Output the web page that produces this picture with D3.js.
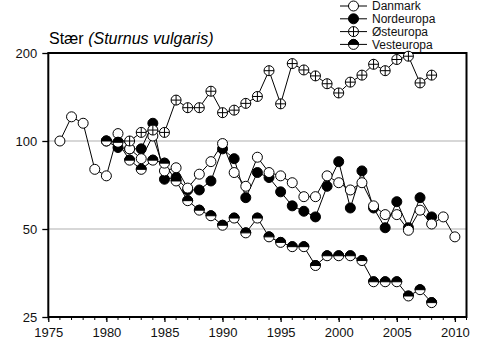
<!DOCTYPE html>
<html><head><meta charset="utf-8">
<script src="https://cdn.jsdelivr.net/npm/d3@7/dist/d3.min.js"></script>
<style>body{margin:0;background:#fff}svg{display:block}</style>
</head><body>
<svg id="c" width="500" height="355"></svg>
<script>
// ---- data ----
const danmarkYears = [1976,1977,1978,1979,1980,1981,1982,1983,1984,1985,1986,1987,1988,1989,1990,1991,1992,1993,1994,1995,1996,1997,1998,1999,2000,2001,2002,2003,2004,2005,2006,2007,2008,2009,2010];
const danmarkValues = [100,121,115,80,76,106,94,87,104,79,81,69,77,85,98,78,70,88,78,76,72,64.5,64.5,76,72,68,72,60,56,56,49.5,58,52,55,47];
const nordYears = [1980,1981,1982,1983,1984,1985,1986,1987,1988,1989,1990,1991,1992,1993,1994,1995,1996,1997,1998,1999,2000,2001,2002,2003,2004,2005,2006,2007,2008];
const nordValues = [100,95,94,94,115,74,75,68,68,73,94,87,64,78,75,67,60,57.5,55,70,85,59,79,59,50.5,62,50.5,64,55];
const ostYears = [1982,1983,1984,1985,1986,1987,1988,1989,1990,1991,1992,1993,1994,1995,1996,1997,1998,1999,2000,2001,2002,2003,2004,2005,2006,2007,2008];
const ostValues = [100,107,109,107,138,130,130,148,125,127.5,134.5,142,174,134,184,175,167,157,146,159,168,183,174,190,195,158,168];
const vestYears = [1980,1981,1982,1983,1984,1985,1986,1987,1988,1989,1990,1991,1992,1993,1994,1995,1996,1997,1998,1999,2000,2001,2002,2003,2004,2005,2006,2007,2008];
const vestValues = [100,99,86,80,86,84,73,62.5,58,55.5,51.5,54.5,48.5,54.5,47,45,43.5,43.5,37.5,40.5,40.5,40.5,39,33,33,33,29.5,31,28];
const seriesNames = ["Danmark","Nordeuropa","Østeuropa","Vesteuropa"];
const yTicks = [25,50,100,200];
const xMajorTicks = [1975,1980,1985,1990,1995,2000,2005,2010];
const gridValues = [50,100];
const titleMain = "Stær ";
const titleItalic = "(Sturnus vulgaris)";

// ---- chart ----
const svg = d3.select("#c");
const L = 48.3, R = 466.5, T = 53, B = 317;
const x = d3.scaleLinear().domain([1975, 2011]).range([L, R]);
const y = d3.scaleLog().domain([25, 200]).range([B, T]);
const font = "'Liberation Sans', Arial, sans-serif";
const r = 5;

// gridlines
svg.selectAll("line.grid").data(gridValues).join("line")
  .attr("x1", L).attr("x2", R).attr("y1", d => y(d)).attr("y2", d => y(d))
  .attr("stroke", "#b0b0b0").attr("stroke-width", 1.2);

// axes
const yAxis = d3.axisLeft(y).tickValues(yTicks).tickFormat(d3.format("d")).tickSize(6).tickPadding(5);
const gy = svg.append("g").attr("transform", `translate(${L},0)`).call(yAxis);
gy.select(".domain").remove();
gy.selectAll("text").attr("font-family", font).attr("font-size", 13).attr("fill", "#111");
gy.selectAll("line").attr("stroke", "#000").attr("stroke-width", 1.3);

const xMinor = d3.range(1975, 2012);
svg.append("g").selectAll("line").data(xMinor).join("line")
  .attr("x1", d => x(d)).attr("x2", d => x(d)).attr("y1", B).attr("y2", B + 3)
  .attr("stroke", "#000").attr("stroke-width", 1);
const xAxis = d3.axisBottom(x).tickValues(xMajorTicks).tickFormat(d3.format("d")).tickSize(5).tickPadding(6);
const gx = svg.append("g").attr("transform", `translate(0,${B})`).call(xAxis);
gx.select(".domain").remove();
gx.selectAll("text").attr("font-family", font).attr("font-size", 13).attr("fill", "#111");
gx.selectAll("line").attr("stroke", "#000").attr("stroke-width", 1.3);

// frame
svg.append("rect").attr("x", L).attr("y", T).attr("width", R - L).attr("height", B - T)
  .attr("fill", "none").attr("stroke", "#000").attr("stroke-width", 2);

// title
const tt = svg.append("text").attr("x", 49).attr("y", 44).attr("font-family", font).attr("font-size", 16).attr("fill", "#000");
tt.append("tspan").text(titleMain);
tt.append("tspan").attr("font-style", "italic").text(titleItalic);

// marker drawers
function marker(g, kind) {
  if (kind === 1) {
    g.append("circle").attr("r", r).attr("fill", "#000").attr("stroke", "#000").attr("stroke-width", 1);
  } else if (kind === 2) {
    g.append("circle").attr("r", r).attr("fill", "#fff").attr("stroke", "#000").attr("stroke-width", 1);
    g.append("path").attr("d", `M${-r},0H${r}M0,${-r}V${r}`).attr("stroke", "#000").attr("stroke-width", 1);
  } else if (kind === 3) {
    g.append("circle").attr("r", r).attr("fill", "#fff").attr("stroke", "#000").attr("stroke-width", 1);
    g.append("path").attr("d", `M${-r},0A${r},${r} 0 0 1 ${r},0Z`).attr("fill", "#000").attr("stroke", "#000").attr("stroke-width", 1);
  } else {
    g.append("circle").attr("r", r).attr("fill", "#fff").attr("stroke", "#000").attr("stroke-width", 1);
  }
}

const series = [
  {years: danmarkYears, values: danmarkValues, kind: 0},
  {years: nordYears, values: nordValues, kind: 1},
  {years: ostYears, values: ostValues, kind: 2},
  {years: vestYears, values: vestValues, kind: 3}
];
const line = d3.line().x(d => x(d[0])).y(d => y(d[1]));
series.forEach(s => {
  const pts = s.years.map((yr, i) => [yr, s.values[i]]);
  svg.append("path").datum(pts).attr("d", line).attr("fill", "none").attr("stroke", "#000").attr("stroke-width", 1);
});
[1, 0, 3, 2].forEach(k => {
  const s = series[k];
  const pts = s.years.map((yr, i) => [yr, s.values[i]]);
  svg.append("g").selectAll("g").data(pts).join("g")
    .attr("transform", d => `translate(${x(d[0])},${y(d[1])})`)
    .each(function() { marker(d3.select(this), s.kind); });
});

// legend
const lg = svg.append("g");
const legendY = [6, 18.8, 31.6, 44.4];
seriesNames.forEach((name, i) => {
  const row = lg.append("g").attr("transform", `translate(0,${legendY[i]})`);
  row.append("line").attr("x1", 340).attr("x2", 367).attr("stroke", "#000").attr("stroke-width", 1);
  marker(row.append("g").attr("transform", "translate(353.5,0)"), series[i].kind);
  row.append("text").attr("x", 372).attr("y", 4.3).attr("font-family", font).attr("font-size", 12).attr("fill", "#111").text(name);
});
</script>
</body></html>
